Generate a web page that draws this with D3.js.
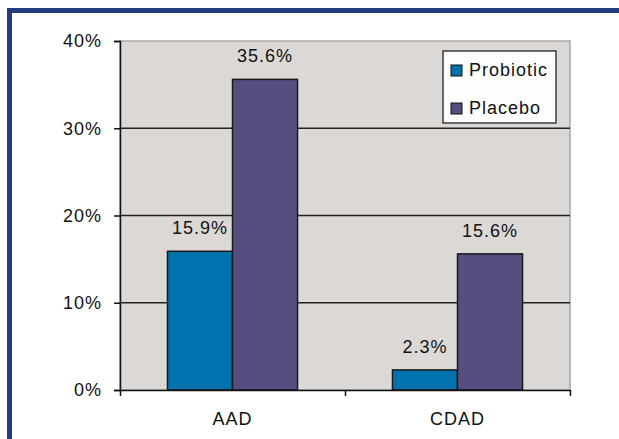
<!DOCTYPE html>
<html>
<head>
<meta charset="utf-8">
<script src="https://cdn.jsdelivr.net/npm/d3@7"></script>
<style>
  body { margin: 0; background: #fff; }
  text { font-family: "Liberation Sans", Arial, sans-serif; font-size: 18px; letter-spacing: 1px; fill: #111; }
</style>
</head>
<body>
<div id="chart"></div>
<script>
var categories = ["AAD", "CDAD"];
var seriesNames = ["Probiotic", "Placebo"];
var probiotic = [15.9, 2.3];
var placebo = [35.6, 15.6];
var yTicks = [0, 10, 20, 30, 40];
var colors = ["#0072ae", "#564d80"];

var W = 619, H = 439;
var svg = d3.select("#chart").append("svg")
    .attr("width", W)
    .attr("height", H);

// blue frame round the picture
svg.append("rect")
    .attr("x", 9.5).attr("y", 10.5)
    .attr("width", W + 20).attr("height", H + 20)
    .attr("fill", "none")
    .attr("stroke", "#243d7e")
    .attr("stroke-width", 5);

var plotL = 120, plotR = 570, plotT = 41, plotB = 390;

var x = d3.scaleBand().domain(categories).range([plotL, plotR]);
var xs = d3.scaleBand().domain(seriesNames).range([0, x.bandwidth()]).paddingInner(0).paddingOuter(0.73);
var y = d3.scaleLinear().domain([0, 40]).range([plotB, plotT]);

// plot area
svg.append("rect")
    .attr("x", plotL).attr("y", plotT)
    .attr("width", plotR - plotL).attr("height", plotB - plotT)
    .attr("fill", "#dcd8d6")
    .attr("stroke", "#a8a6a4")
    .attr("stroke-width", 1.5);

// gridlines
svg.selectAll(".grid")
  .data(yTicks.slice(1, 4))
  .enter()
  .append("line")
    .attr("x1", plotL).attr("x2", plotR)
    .attr("y1", function(d) { return y(d) })
    .attr("y2", function(d) { return y(d) })
    .attr("stroke", "#222")
    .attr("stroke-width", 1.5);

var rows = categories.map(function(c, i) {
  return { cat: c, values: [probiotic[i], placebo[i]] };
});

var groups = svg.selectAll(".grp")
  .data(rows)
  .enter()
  .append("g")
    .attr("transform", function(d) { return "translate(" + x(d.cat) + ",0)" });

groups.selectAll("rect")
  .data(function(d) { return d.values.map(function(v, j) { return { name: seriesNames[j], v: v, j: j } }) })
  .enter()
  .append("rect")
    .attr("x", function(d) { return xs(d.name) })
    .attr("y", function(d) { return y(d.v) })
    .attr("width", xs.bandwidth())
    .attr("height", function(d) { return plotB - y(d.v) })
    .attr("fill", function(d) { return colors[d.j] })
    .attr("stroke", "#1a1a1a")
    .attr("stroke-width", 1.5);

groups.selectAll(".lbl")
  .data(function(d) { return d.values.map(function(v, j) { return { name: seriesNames[j], v: v } }) })
  .enter()
  .append("text")
    .attr("x", function(d) { return xs(d.name) + xs.bandwidth() / 2 })
    .attr("y", function(d) { return y(d.v) - 17 })
    .attr("text-anchor", "middle")
    .text(function(d) { return d.v.toFixed(1) + "%" });

// axes
var yAxis = svg.append("g")
    .attr("transform", "translate(" + plotL + ",0)")
    .call(d3.axisLeft(y).tickValues(yTicks).tickSize(6).tickPadding(12).tickFormat(function(d) { return d + "%" }));
var xAxis = svg.append("g")
    .attr("transform", "translate(0," + plotB + ")")
    .call(d3.axisBottom(x).tickSize(0).tickPadding(22));
svg.append("g")
    .attr("transform", "translate(0," + plotB + ")")
    .call(d3.axisBottom(d3.scaleLinear().domain([0, 2]).range([plotL, plotR])).ticks(2).tickSize(6).tickFormat(""))
    .select(".domain").remove();

[yAxis, xAxis].forEach(function(a) {
  a.selectAll("path, line").attr("stroke", "#111").attr("stroke-width", 1.5);
  a.selectAll("text").style("font-size", "18px").attr("fill", "#111");
});
svg.selectAll(".tick line").attr("stroke", "#111").attr("stroke-width", 1.5);

// legend
var lg = svg.append("g").attr("transform", "translate(443,51)");
lg.append("rect")
    .attr("width", 113).attr("height", 72)
    .attr("fill", "#fdfdfd")
    .attr("stroke", "#111")
    .attr("stroke-width", 1.2);
lg.selectAll(".sw")
  .data(seriesNames)
  .enter()
  .append("rect")
    .attr("x", 8)
    .attr("y", function(d, i) { return 14 + i * 38 })
    .attr("width", 11).attr("height", 11)
    .attr("fill", function(d, i) { return colors[i] })
    .attr("stroke", "#111");
lg.selectAll(".lt")
  .data(seriesNames)
  .enter()
  .append("text")
    .attr("x", 26)
    .attr("y", function(d, i) { return 25 + i * 38 })
    .text(function(d) { return d });
</script>
</body>
</html>
